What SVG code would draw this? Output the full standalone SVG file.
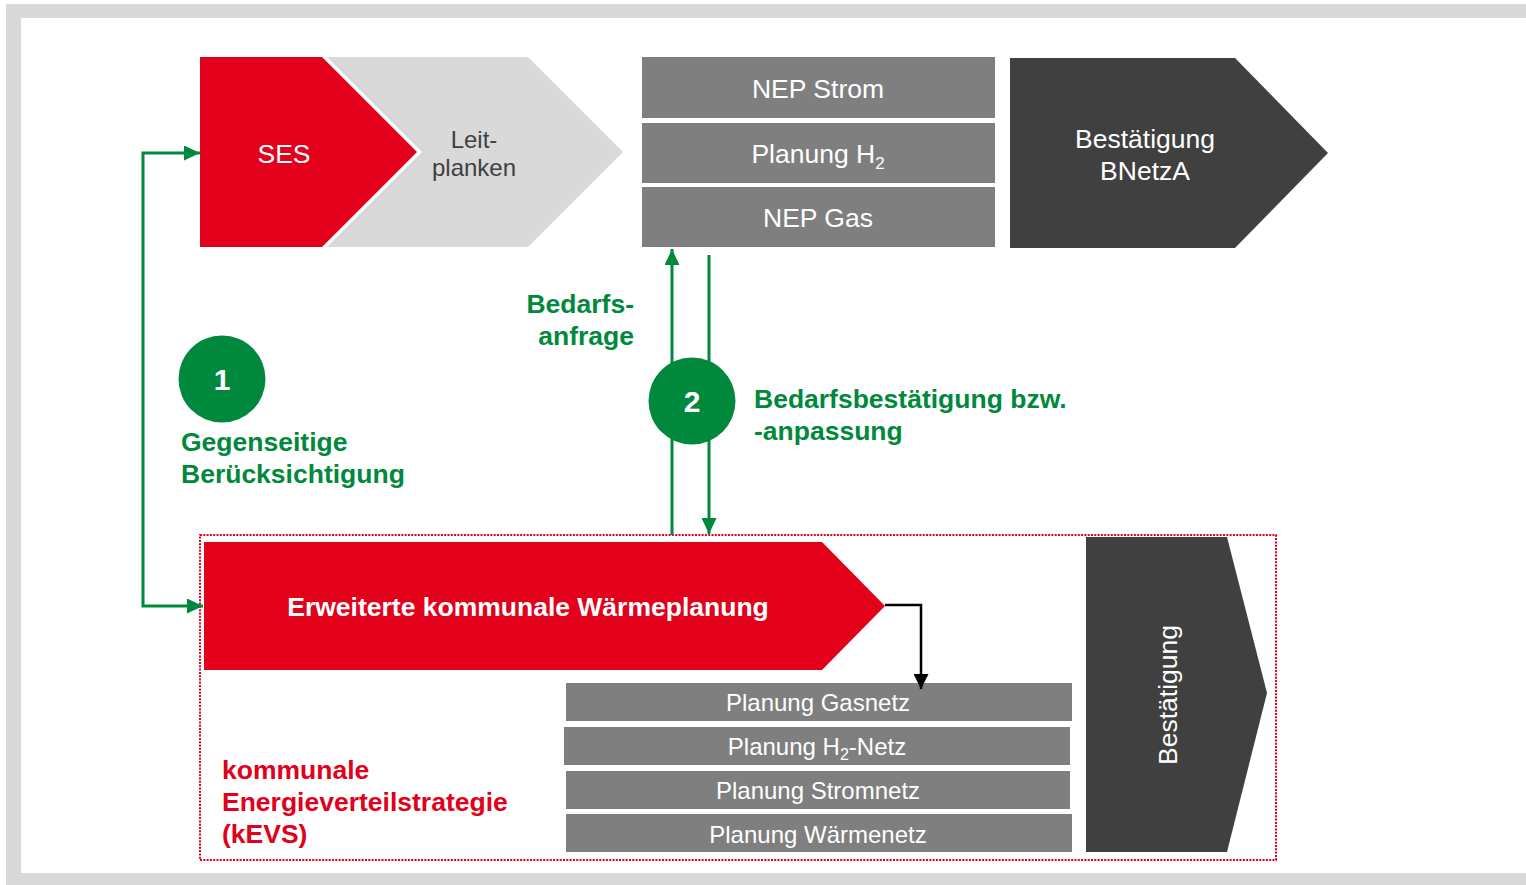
<svg xmlns="http://www.w3.org/2000/svg" width="1526" height="885" viewBox="0 0 1526 885">
<style>
text{font-family:"Liberation Sans",Arial,sans-serif;}
.w{fill:#ffffff;}
.g{fill:#00893d;font-weight:bold;font-size:26.5px;}
.r{fill:#e2001a;font-weight:bold;font-size:26.5px;}
.c{text-anchor:middle;}
.big{font-size:26.5px;}
.bar{font-size:24px;}
.gl{stroke:#00893d;stroke-width:3;fill:none;}
</style>
<defs>
<marker id="ga" viewBox="0 0 16 15" refX="16" refY="7.5" markerWidth="16" markerHeight="15" markerUnits="userSpaceOnUse" orient="auto">
<path d="M0,0 L16,7.5 L0,15 Z" fill="#00893d"/>
</marker>
<marker id="ba" viewBox="0 0 15 15" refX="15" refY="7.5" markerWidth="15" markerHeight="15" markerUnits="userSpaceOnUse" orient="auto">
<path d="M0,0 L15,7.5 L0,15 Z" fill="#000000"/>
</marker>
</defs>
<rect x="0" y="0" width="1526" height="885" fill="#ffffff"/>
<rect x="6" y="4" width="1530" height="881" fill="#d9d9d9"/>
<rect x="21" y="18" width="1515" height="855" fill="#ffffff"/>

<g id="leitplanken">
<polygon points="327,57 528,57 623,152 528,247 327,247 422,152" fill="#d9d9d9"/>
<text x="474" y="148" class="c bar" fill="#404040">Leit-</text>
<text x="474" y="176" class="c bar" fill="#404040">planken</text>
</g>
<g id="ses">
<polygon points="200,57 322,57 417,152 322,247 200,247" fill="#e2001a"/>
<text x="284" y="163" class="c big w">SES</text>
</g>

<g id="nep-strom">
<rect x="642" y="57" width="353" height="61" fill="#7f7f7f"/>
<text x="818" y="98" class="c big w">NEP Strom</text>
</g>
<g id="planung-h2">
<rect x="642" y="123" width="353" height="60" fill="#7f7f7f"/>
<text x="818" y="163" class="c big w">Planung H<tspan font-size="17" dy="6">2</tspan></text>
</g>
<g id="nep-gas">
<rect x="642" y="187" width="353" height="60" fill="#7f7f7f"/>
<text x="818" y="227" class="c big w">NEP Gas</text>
</g>

<g id="bestaetigung-bnetza">
<polygon points="1010,58 1235,58 1328,153 1235,248 1010,248" fill="#404040"/>
<text x="1145" y="148" class="c big w">Bestätigung</text>
<text x="1145" y="180" class="c big w">BNetzA</text>
</g>

<g id="kevs">
<rect x="200" y="535" width="1076" height="325" fill="none" stroke="#e2001a" stroke-width="2" stroke-dasharray="2 1.3"/>
<text x="222" y="779" class="r">kommunale</text>
<text x="222" y="811" class="r">Energieverteilstrategie</text>
<text x="222" y="843" class="r">(kEVS)</text>
</g>

<g id="waermeplanung">
<polygon points="204,542 822,542 885,606 822,670 204,670" fill="#e2001a"/>
<text x="528" y="616" class="c w" font-weight="bold" font-size="26.5">Erweiterte kommunale Wärmeplanung</text>
</g>

<g id="planung-gasnetz">
<rect x="566" y="683" width="506" height="38" fill="#7f7f7f"/>
<text x="818" y="711" class="c bar w">Planung Gasnetz</text>
</g>
<g id="planung-h2-netz">
<rect x="564" y="727" width="506" height="38" fill="#7f7f7f"/>
<text x="817" y="755" class="c bar w">Planung H<tspan font-size="16" dy="5">2</tspan><tspan dy="-5">-Netz</tspan></text>
</g>
<g id="planung-stromnetz">
<rect x="566" y="771" width="504" height="38" fill="#7f7f7f"/>
<text x="818" y="799" class="c bar w">Planung Stromnetz</text>
</g>
<g id="planung-waermenetz">
<rect x="566" y="814" width="506" height="38" fill="#7f7f7f"/>
<text x="818" y="843" class="c bar w">Planung Wärmenetz</text>
</g>

<g id="bestaetigung">
<polygon points="1086,537 1227,537 1267,693 1227,852 1086,852" fill="#404040"/>
<text x="0" y="0" class="c big w" transform="translate(1177,695) rotate(-90)">Bestätigung</text>
</g>

<g id="connectors">
<polyline points="143,380 143,153 200,153" class="gl" marker-end="url(#ga)"/>
<polyline points="143,380 143,606 203,606" class="gl" marker-end="url(#ga)"/>
<line x1="672" y1="535" x2="672" y2="249" class="gl" marker-end="url(#ga)"/>
<line x1="709" y1="255" x2="709" y2="534" class="gl" marker-end="url(#ga)"/>
<polyline points="885,605 921,605 921,689" fill="none" stroke="#000000" stroke-width="2.5" marker-end="url(#ba)"/>
</g>

<g id="step1">
<circle cx="222" cy="379" r="43.5" fill="#00893d"/>
<text x="222" y="390" class="c w" font-weight="bold" font-size="30">1</text>
<text x="181" y="451" class="g">Gegenseitige</text>
<text x="181" y="483" class="g">Berücksichtigung</text>
</g>

<g id="step2">
<circle cx="692" cy="401" r="43.5" fill="#00893d"/>
<text x="692" y="412" class="c w" font-weight="bold" font-size="30">2</text>
<text x="634" y="313" class="g" text-anchor="end">Bedarfs-</text>
<text x="634" y="345" class="g" text-anchor="end">anfrage</text>
<text x="754" y="408" class="g">Bedarfsbestätigung bzw.</text>
<text x="754" y="440" class="g">-anpassung</text>
</g>
</svg>
